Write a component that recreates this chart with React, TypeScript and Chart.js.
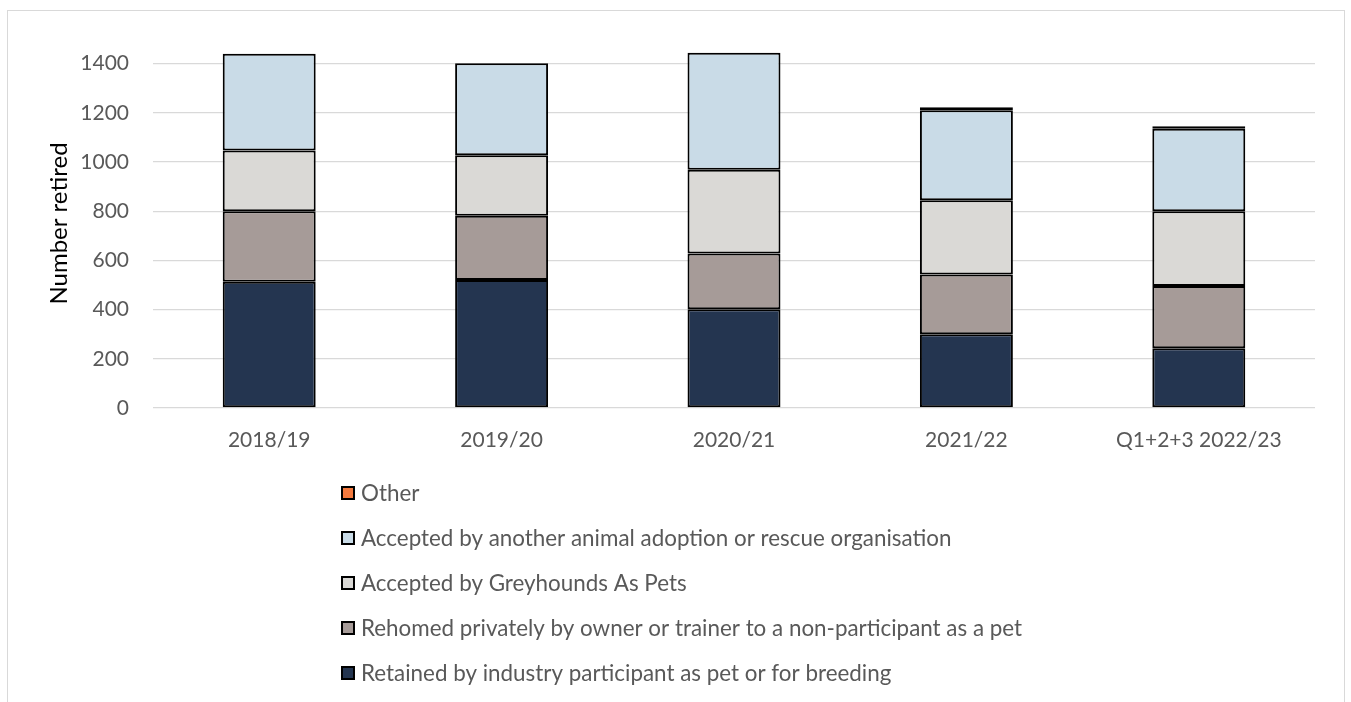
import React, { useEffect, useRef } from "react";
import { Chart, registerables } from "chart.js";

Chart.register(...registerables);

const categories = ["2018/19", "2019/20", "2020/21", "2021/22", "Q1+2+3 2022/23"];
const retained = [513, 520, 401, 300, 243];
const rehomed = [287, 261, 227, 243, 253];
const greyhoundsAsPets = [247, 246, 341, 302, 304];
const otherOrganisation = [393, 374, 475, 365, 335];
const other = [0, 0, 0, 13, 10];

const seriesLabels = [
  "Retained by industry participant as pet or for breeding",
  "Rehomed privately by owner or trainer to a non-participant as a pet",
  "Accepted by Greyhounds As Pets",
  "Accepted by another animal adoption or rescue organisation",
  "Other",
];
const seriesColors = ["#243550", "#A69B98", "#DAD9D6", "#C9DBE7", "#F47A3F"];
const yTickValues = [0, 200, 400, 600, 800, 1000, 1200, 1400];

const FONT = "Lato";
const TEXT = "#595959";

const verticalLegend = {
  id: "verticalLegend",
  afterDraw(chart: any) {
    const ctx = chart.ctx;
    const datasets = chart.data.datasets;
    const x0 = 334;
    const y0 = 482;
    const step = 45;
    const box = 12;
    ctx.save();
    ctx.font = `22.4px ${FONT}`;
    ctx.textBaseline = "middle";
    ctx.textAlign = "left";
    const order = datasets.map((_: any, i: number) => i).reverse();
    order.forEach((di: number, row: number) => {
      const ds = datasets[di];
      const y = y0 + row * step;
      ctx.fillStyle = ds.backgroundColor;
      ctx.fillRect(x0, y - box / 2, box, box);
      ctx.lineWidth = 2;
      ctx.strokeStyle = "#000";
      ctx.strokeRect(x0, y - box / 2, box, box);
      ctx.fillStyle = TEXT;
      ctx.fillText(ds.label, x0 + 19, y + 1);
    });
    ctx.restore();
  },
};

export default function App() {
  const canvasRef = useRef<HTMLCanvasElement | null>(null);

  useEffect(() => {
    if (!canvasRef.current) return;
    const series = [retained, rehomed, greyhoundsAsPets, otherOrganisation, other];
    const chart = new Chart(canvasRef.current, {
      type: "bar",
      data: {
        labels: categories,
        datasets: series.map((d, i) => ({
          label: seriesLabels[i],
          data: d,
          backgroundColor: seriesColors[i],
          borderColor: "#000000",
          borderWidth: 2,
          borderSkipped: false,
          barPercentage: 0.4,
          categoryPercentage: 1,
        })),
      },
      options: {
        animation: false,
        responsive: false,
        layout: { padding: { left: 0, right: 29, top: 28, bottom: 0 } },
        plugins: {
          legend: { display: false },
          tooltip: { enabled: false },
        },
        scales: {
          x: {
            stacked: true,
            grid: { display: false, drawTicks: false },
            border: { display: false },
            ticks: { color: TEXT, font: { family: FONT, size: 21 }, padding: 20, maxRotation: 0 },
            afterFit: (s: any) => {
              s.height = 295;
            },
          },
          y: {
            stacked: true,
            min: 0,
            max: 1500,
            afterBuildTicks: (scale: any) => {
              scale.ticks = yTickValues.map((v) => ({ value: v }));
            },
            afterFit: (s: any) => {
              s.width = 145;
              s.paddingTop = 0;
              s.paddingBottom = 0;
            },
            grid: { color: "#D9D9D9", lineWidth: 1.3, drawTicks: false },
            border: { display: false },
            ticks: {
              color: TEXT,
              font: { family: FONT, size: 21 },
              padding: 24,
              callback: (v: any) => String(v),
            },
            title: {
              display: true,
              text: "Number retired",
              color: "#000000",
              font: { family: FONT, size: 24 },
              padding: { top: 37, bottom: 5 },
            },
          },
        },
      },
      plugins: [verticalLegend],
    });
    return () => chart.destroy();
  }, []);

  return (
    <div
      style={{
        position: "fixed",
        left: 7,
        top: 10,
        width: 1338,
        height: 700,
        boxSizing: "border-box",
        borderTop: "1px solid #D9D9D9",
        borderLeft: "1px solid #D9D9D9",
        borderRight: "1px solid #D9D9D9",
        background: "#fff",
      }}
    >
      <canvas ref={canvasRef} width={1336} height={692} style={{ display: "block" }} />
    </div>
  );
}
